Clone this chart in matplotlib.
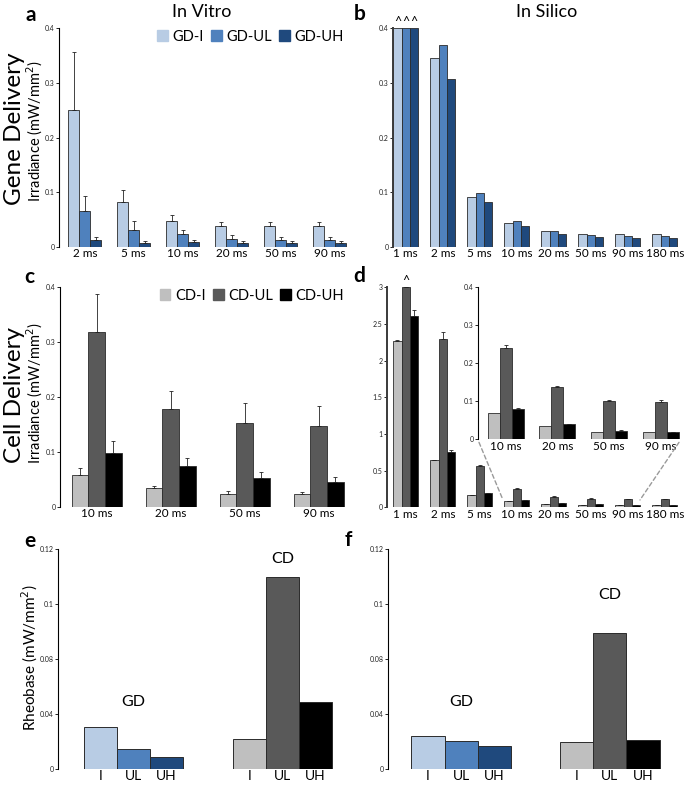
import numpy as np
import matplotlib.pyplot as plt
from matplotlib.patches import ConnectionPatch

plt.rcParams['font.family'] = ['Lato', 'DejaVu Sans']

W, H = 685, 785

# ---- data ----
vitro_times = ['2 ms', '5 ms', '10 ms', '20 ms', '50 ms', '90 ms']
gd_vitro_i = [0.251, 0.082, 0.048, 0.038, 0.038, 0.038]
gd_vitro_ul = [0.066, 0.032, 0.023, 0.015, 0.013, 0.013]
gd_vitro_uh = [0.013, 0.008, 0.009, 0.008, 0.008, 0.008]
gd_vitro_i_err = [0.105, 0.022, 0.011, 0.008, 0.007, 0.007]
gd_vitro_ul_err = [0.028, 0.015, 0.009, 0.007, 0.006, 0.006]
gd_vitro_uh_err = [0.005, 0.003, 0.003, 0.003, 0.003, 0.003]

silico_times = ['1 ms', '2 ms', '5 ms', '10 ms', '20 ms', '50 ms', '90 ms', '180 ms']
gd_silico_i = [0.4, 0.345, 0.091, 0.044, 0.029, 0.024, 0.024, 0.023]
gd_silico_ul = [0.4, 0.370, 0.098, 0.047, 0.029, 0.022, 0.020, 0.020]
gd_silico_uh = [0.4, 0.308, 0.082, 0.038, 0.024, 0.018, 0.016, 0.016]

cd_vitro_times = ['10 ms', '20 ms', '50 ms', '90 ms']
cd_vitro_i = [0.058, 0.034, 0.024, 0.023]
cd_vitro_ul = [0.319, 0.178, 0.153, 0.148]
cd_vitro_uh = [0.098, 0.075, 0.053, 0.046]
cd_vitro_i_err = [0.013, 0.005, 0.006, 0.004]
cd_vitro_ul_err = [0.068, 0.034, 0.036, 0.036]
cd_vitro_uh_err = [0.022, 0.014, 0.010, 0.008]

cd_silico_i = [2.27, 0.65, 0.17, 0.08, 0.045, 0.03, 0.025, 0.027]
cd_silico_ul = [3.0, 2.295, 0.56, 0.25, 0.145, 0.118, 0.118, 0.118]
cd_silico_uh = [2.61, 0.75, 0.20, 0.10, 0.055, 0.04, 0.035, 0.035]
cd_silico_i_err = [0.015, 0.0, 0.0, 0.0, 0.0, 0.0, 0.0, 0.0]
cd_silico_ul_err = [0.0, 0.09, 0.02, 0.01, 0.005, 0.005, 0.0, 0.0]
cd_silico_uh_err = [0.08, 0.025, 0.0, 0.0, 0.0, 0.0, 0.0, 0.0]

inset_times = ['10 ms', '20 ms', '50 ms', '90 ms']
inset_i = [0.070, 0.036, 0.020, 0.020]
inset_ul = [0.240, 0.136, 0.100, 0.099]
inset_uh = [0.079, 0.040, 0.022, 0.020]
inset_ul_err = [0.008, 0.005, 0.004, 0.003]
inset_uh_err = [0.003, 0.0, 0.002, 0.0]

rheo_labels = ['I', 'UL', 'UH']
rheo_vitro_gd = [0.0226, 0.0107, 0.0066]
rheo_vitro_cd = [0.0160, 0.1049, 0.0366]
rheo_silico_gd = [0.0179, 0.0151, 0.0126]
rheo_silico_cd = [0.0148, 0.0739, 0.0155]
rheo_ticks = [0, 0.03, 0.06, 0.09, 0.12]
rheo_ticklabels = ['0', '0.04', '0.08', '0.1', '0.12']

gd_colors = ['#b8cce4', '#4f81bd', '#1f497d']
cd_colors = ['#bfbfbf', '#595959', '#000000']
edge = '#2b2b2b'


def add_ax(fig, left, top, right, bottom):
    return fig.add_axes([left / W, 1 - bottom / H, (right - left) / W, (bottom - top) / H])


def style(ax, ylim, yticks, yticklabels=None, spine_lw=0.8, spine_col='black'):
    for s in ['top', 'right', 'bottom']:
        ax.spines[s].set_visible(False)
    ax.spines['left'].set_linewidth(spine_lw)
    ax.spines['left'].set_color(spine_col)
    ax.set_ylim(*ylim)
    ax.set_yticks(yticks)
    if yticklabels is None:
        yticklabels = [('%g' % t) for t in yticks]
    ax.set_yticklabels(yticklabels)
    ax.tick_params(axis='y', direction='out', length=2, width=0.6, labelsize=5, pad=1,
                   labelcolor='#222222')
    ax.tick_params(axis='x', length=0, labelsize=8.5, pad=1)
    ax.patch.set_alpha(0)


def grouped(ax, labels, series, colors, width, errs=None):
    x = np.arange(len(labels))
    for i, vals in enumerate(series):
        xs = x + (i - 1) * width
        ax.bar(xs, vals, width, color=colors[i], edgecolor=edge, linewidth=0.6, zorder=2)
        if errs is not None and errs[i] is not None:
            e = np.array(errs[i])
            ax.errorbar(xs, vals, yerr=[np.zeros_like(e), e], fmt='none', ecolor='#222222',
                        elinewidth=0.6, capsize=1.2, capthick=0.6, zorder=3)
    ax.set_xticks(x)
    ax.set_xticklabels(labels)


fig = plt.figure(figsize=(W / 100, H / 100), dpi=100)

# ---- a: in vitro gene delivery ----
ax_a = add_ax(fig, 59, 28.3, 350, 247)
grouped(ax_a, vitro_times, [gd_vitro_i, gd_vitro_ul, gd_vitro_uh], gd_colors, 11 / 49,
        [gd_vitro_i_err, gd_vitro_ul_err, gd_vitro_uh_err])
style(ax_a, (0, 0.4), [0, 0.1, 0.2, 0.3, 0.4])
ax_a.set_xlim((59 - 84.8) / 49, (350 - 84.8) / 49)

# ---- b: in silico gene delivery ----
ax_b = add_ax(fig, 392.7, 28.3, 682, 247)
grouped(ax_b, silico_times, [gd_silico_i, gd_silico_ul, gd_silico_uh], gd_colors, 8.3 / 37)
style(ax_b, (0, 0.4), [0, 0.1, 0.2, 0.3, 0.4], spine_lw=1.4, spine_col='#3a3a3a')
ax_b.set_xlim((392.7 - 405.8) / 37, (682 - 405.8) / 37)
for k in range(3):
    ax_b.text((k - 1) * 8.3 / 37, 0.4, '^', ha='center', va='bottom', fontsize=9, clip_on=False)

# ---- c: in vitro cell delivery ----
ax_c = add_ax(fig, 60, 287.3, 350, 507)
grouped(ax_c, cd_vitro_times, [cd_vitro_i, cd_vitro_ul, cd_vitro_uh], cd_colors, 16.7 / 74,
        [cd_vitro_i_err, cd_vitro_ul_err, cd_vitro_uh_err])
style(ax_c, (0, 0.4), [0, 0.1, 0.2, 0.3, 0.4])
ax_c.set_xlim((60 - 96.7) / 74, (350 - 96.7) / 74)

# ---- d: in silico cell delivery ----
ax_d = add_ax(fig, 386.7, 287.3, 682, 507.3)
grouped(ax_d, silico_times, [cd_silico_i, cd_silico_ul, cd_silico_uh], cd_colors, 8.3 / 37,
        [cd_silico_i_err, cd_silico_ul_err, cd_silico_uh_err])
style(ax_d, (0, 3), [0, 0.5, 1, 1.5, 2, 2.5, 3], spine_lw=1.4, spine_col='#3a3a3a')
ax_d.set_xlim((386.7 - 405.8) / 37, (682 - 405.8) / 37)
ax_d.text(0, 3.0, '^', ha='center', va='bottom', fontsize=9, clip_on=False)

ax_in = add_ax(fig, 478, 286.7, 682, 439.3)
grouped(ax_in, inset_times, [inset_i, inset_ul, inset_uh], cd_colors, 12 / 51.7,
        [None, inset_ul_err, inset_uh_err])
style(ax_in, (0, 0.4), [0, 0.1, 0.2, 0.3, 0.4])
ax_in.set_xlim((478 - 505.7) / 51.7, (682 - 505.7) / 51.7)

for xa, xb in [((479 - 505.7) / 51.7, (503 - 405.8) / 37), ((679 - 505.7) / 51.7, (640 - 405.8) / 37)]:
    con = ConnectionPatch(xyA=(xa, -0.008), coordsA=ax_in.transData,
                          xyB=(xb, 0.1), coordsB=ax_d.transData,
                          color='#9a9a9a', lw=1.0, linestyle=(0, (3, 2)))
    fig.add_artist(con)

# ---- e, f: rheobase ----
def rheo(ax, gd_vals, cd_vals, cd_off, gd_lab_y, cd_lab_y):
    xg = np.arange(3)
    xc = xg + cd_off
    ax.bar(xg, gd_vals, 1.0, color=gd_colors, edgecolor=edge, linewidth=0.7)
    ax.bar(xc, cd_vals, 1.0, color=cd_colors, edgecolor=edge, linewidth=0.7)
    ax.set_xticks(list(xg) + list(xc))
    ax.set_xticklabels(rheo_labels + rheo_labels)
    style(ax, (0, 0.12), rheo_ticks, rheo_ticklabels)
    ax.tick_params(axis='x', labelsize=10, pad=1)
    ax.text(1, gd_lab_y, 'GD', ha='center', va='center', fontsize=11.5)
    ax.text(1 + cd_off, cd_lab_y, 'CD', ha='center', va='center', fontsize=11.5)


ax_e = add_ax(fig, 58, 549, 345, 768.7)
rheo(ax_e, rheo_vitro_gd, rheo_vitro_cd, 4.515, 0.0365, 0.1145)
ax_e.set_xlim((58 - 100.5) / 33, (345 - 100.5) / 33)

ax_f = add_ax(fig, 387.7, 549, 680, 768.7)
rheo(ax_f, rheo_silico_gd, rheo_silico_cd, 4.46, 0.0365, 0.0948)
ax_f.set_xlim((387.7 - 428) / 33.3, (680 - 428) / 33.3)

# ---- legends ----
def legend_row(ax, colors, labels, anchor_y):
    handles = [plt.Rectangle((0, 0), 1, 1, color=c) for c in colors]
    ax.legend(handles, labels, loc='upper right', bbox_to_anchor=(1.0, anchor_y), ncol=3,
              frameon=False, fontsize=10.5, handlelength=0.75, handleheight=0.75,
              handletextpad=0.3, columnspacing=0.5, borderaxespad=0)


legend_row(ax_a, gd_colors, ['GD-I', 'GD-UL', 'GD-UH'], 1.02)
legend_row(ax_c, cd_colors, ['CD-I', 'CD-UL', 'CD-UH'], 1.02)

# ---- text labels ----
def ftext(x, y, s, **kw):
    fig.text(x / W, 1 - y / H, s, **kw)


ftext(202, 12, 'In Vitro', ha='center', va='center', fontsize=13)
ftext(547, 12, 'In Silico', ha='center', va='center', fontsize=13)
for x, y, s in [(31, 15, 'a'), (360, 14, 'b'), (29, 277, 'c'), (359, 276, 'd'), (30, 541, 'e'), (348, 540, 'f')]:
    ftext(x, y, s, ha='center', va='center', fontsize=15, fontweight='bold')

ftext(15, 129, 'Gene Delivery', ha='center', va='center', rotation=90, fontsize=17.5)
ftext(35, 131, 'Irradiance (mW/mm$^2$)', ha='center', va='center', rotation=90, fontsize=10.5)
ftext(15, 395, 'Cell Delivery', ha='center', va='center', rotation=90, fontsize=17.5)
ftext(35, 393, 'Irradiance (mW/mm$^2$)', ha='center', va='center', rotation=90, fontsize=10.5)
ftext(30, 658, 'Rheobase (mW/mm$^2$)', ha='center', va='center', rotation=90, fontsize=11)

fig.savefig('out.png', dpi=100)
